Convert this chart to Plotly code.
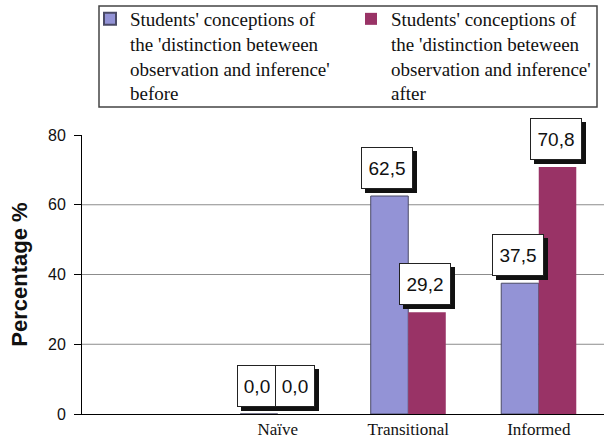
import plotly.graph_objects as go

# Categories of students' conceptions and the percentage in each, before / after
categories = ["Naïve", "Transitional", "Informed"]
before = [0.0, 62.5, 37.5]
after = [0.0, 29.2, 70.8]
series_names = [
    "Students' conceptions of<br>the 'distinction beteween<br>observation and inference'<br>before",
    "Students' conceptions of<br>the 'distinction beteween<br>observation and inference'<br>after",
]
y_ticks = [0, 20, 40, 60, 80]
grid_levels = [20, 40, 60]

BLUE = "#9393D6"
PURPLE = "#993366"
SANS = "Liberation Sans, Arial, Helvetica, sans-serif"
SERIF = "Liberation Serif, Times New Roman, serif"

W, H = 604, 442
M_L, M_R, M_T, M_B = 82, 0, 135, 28
PLOT_W, PLOT_H = W - M_L - M_R, H - M_T - M_B


def px_to_paper_x(px):
    return (px - M_L) / PLOT_W


def px_to_paper_y(py):
    return (H - M_B - py) / PLOT_H


fig = go.Figure()
fig.add_trace(go.Bar(
    x=categories, y=before, name=series_names[0],
    marker=dict(color=BLUE, line=dict(color="#4a4a66", width=1)),
))
fig.add_trace(go.Bar(
    x=categories, y=after, name=series_names[1],
    marker=dict(color=PURPLE, line=dict(color=PURPLE, width=0)),
))

# horizontal gridlines drawn beneath the bars
for g in grid_levels:
    fig.add_shape(type="line", xref="paper", x0=0, x1=1, yref="y", y0=g, y1=g,
                  line=dict(color="#8c8c8c", width=1), layer="below")

# frame around the legend
fig.add_shape(type="rect", xref="paper", yref="paper",
              x0=px_to_paper_x(99), x1=px_to_paper_x(597),
              y0=px_to_paper_y(107), y1=px_to_paper_y(6),
              line=dict(color="#444444", width=1.5), fillcolor="rgba(0,0,0,0)")

# value labels: white boxed text with a black drop shadow
group_half = 0.575 / 2
slot_px = PLOT_W / 4
bar_off_px = group_half / 2 * slot_px
shadows, boxes = [], []
for values, side in ((before, -1), (after, 1)):
    for cat, v in zip(categories, values):
        label = f"{v:.1f}".replace(".", ",")
        text_w = 38 if len(label) > 3 else 26
        common = dict(
            x=cat, y=v, xref="x", yref="y", showarrow=False,
            yanchor="bottom", xanchor="center", width=text_w, height=28,
            borderpad=6, borderwidth=1,
        )
        xs = side * bar_off_px - 2
        shadows.append(dict(common, text="&nbsp;", xshift=xs + 4, yshift=7 - 4,
                            bgcolor="#111111", bordercolor="#111111",
                            font=dict(family=SANS, size=19, color="#111111")))
        boxes.append(dict(common, text=label, xshift=xs, yshift=7,
                          bgcolor="white", bordercolor="#222222",
                          font=dict(family=SANS, size=19, color="#111111")))
fig.update_layout(annotations=shadows + boxes)

fig.update_layout(
    width=W, height=H,
    margin=dict(l=M_L, r=M_R, t=M_T, b=M_B, autoexpand=False),
    paper_bgcolor="white", plot_bgcolor="white",
    barmode="group", bargap=0.425, bargroupgap=0,
    showlegend=True,
    legend=dict(
        orientation="h", xref="container", yref="container",
        x=90 / W, xanchor="left", y=1, yanchor="top",
        entrywidth=216, entrywidthmode="pixels",
        font=dict(family=SERIF, size=19, color="#111111"),
        borderwidth=0, bgcolor="rgba(0,0,0,0)",
        valign="top", itemsizing="constant", traceorder="normal",
    ),
    xaxis=dict(
        range=[-1.5, 2.5], showline=True, linecolor="black", linewidth=1,
        ticks="", showgrid=False,
        tickfont=dict(family=SERIF, size=17, color="#111111"),
    ),
    yaxis=dict(
        range=[0, 80], tickvals=y_ticks, showgrid=False, zeroline=False,
        showline=True, linecolor="black", linewidth=1,
        ticks="outside", ticklen=7, tickcolor="black", tickwidth=1,
        ticklabelstandoff=5,
        tickfont=dict(family=SANS, size=16, color="#111111"),
        title=dict(text="<b>Percentage %</b>", standoff=14,
                   font=dict(family=SANS, size=22, color="#111111")),
    ),
)

fig.write_html("out.html")
